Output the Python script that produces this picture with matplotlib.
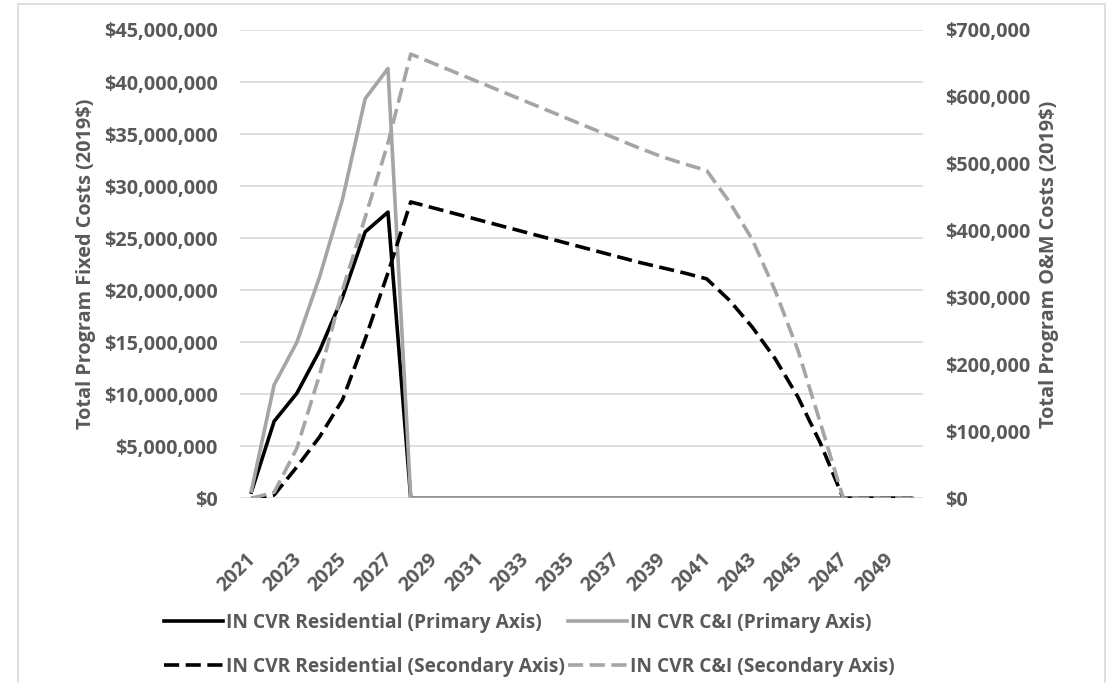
import matplotlib.pyplot as plt
import matplotlib.transforms as mtransforms
from matplotlib.ticker import FuncFormatter, MultipleLocator
from matplotlib.patches import Rectangle

plt.rcParams['font.family'] = ['Open Sans', 'DejaVu Sans']
plt.rcParams['font.weight'] = 'bold'
plt.rcParams['axes.labelweight'] = 'bold'

years = list(range(2021, 2051))

# primary axis: fixed costs ($)
res_fixed = [0.6e6, 7.4e6, 10.1e6, 14.2e6, 19.3e6, 25.6e6, 27.5e6] + [0] * 23
ci_fixed = [0.7e6, 10.9e6, 15.0e6, 21.3e6, 28.7e6, 38.4e6, 41.3e6] + [0] * 23

# secondary axis: O&M costs ($)
res_om = [0, 5e3, 47e3, 92e3, 147e3, 238e3, 337e3, 443e3, 434e3, 425e3,
          416e3, 407e3, 398e3, 389e3, 380e3, 371e3, 362e3, 353e3, 345e3, 337e3,
          328e3, 296e3, 256e3, 209e3, 152e3, 82e3, 0, 0, 0, 0]
ci_om = [0, 9e3, 75e3, 185e3, 311e3, 420e3, 531e3, 664e3, 650e3, 636e3,
         622e3, 608e3, 594e3, 580e3, 566e3, 552e3, 538e3, 524e3, 511e3, 500e3,
         490e3, 443e3, 387e3, 311e3, 222e3, 112e3, 0, 0, 0, 0]

txt = '#595959'
black = '#000000'
gray = '#A5A5A5'
fs = 14.3

fig = plt.figure(figsize=(11.1, 6.83), dpi=100)
ax = fig.add_axes([0.2162, 0.2704, 0.6153, 0.6857])
ax2 = ax.twinx()

l1, = ax.plot(years, res_fixed, color=black, lw=2.6, label='IN CVR Residential (Primary Axis)')
l2, = ax.plot(years, ci_fixed, color=gray, lw=2.6, label='IN CVR C&I (Primary Axis)')
l3, = ax2.plot(years, res_om, color=black, lw=2.6, dashes=(4.2, 1.8),
               label='IN CVR Residential (Secondary Axis)')
l4, = ax2.plot(years, ci_om, color=gray, lw=2.6, dashes=(4.2, 1.8),
               label='IN CVR C&I (Secondary Axis)')

ax.set_xlim(2020.5, 2050.5)
ax.set_ylim(0, 45e6)
ax2.set_ylim(0, 700e3)
ax.yaxis.set_major_locator(MultipleLocator(5e6))
ax2.yaxis.set_major_locator(MultipleLocator(1e5))
money = FuncFormatter(lambda v, p: '${:,.0f}'.format(v))
ax.yaxis.set_major_formatter(money)
ax2.yaxis.set_major_formatter(money)
ax.set_xticks(years[::2])
ax.set_xticklabels([str(y) for y in years[::2]], rotation=45, ha='right',
                   va='top', rotation_mode='anchor', fontweight='bold')

ax.grid(axis='y', color='#D9D9D9', lw=1.2)
ax.set_axisbelow(True)
for a in (ax, ax2):
    for s in a.spines.values():
        s.set_visible(False)
    a.tick_params(length=0, labelsize=fs, labelcolor=txt)
ax.tick_params(axis='y', pad=16)
ax.tick_params(axis='x', pad=24)
ax2.tick_params(axis='y', pad=16)
for lab in ax.get_yticklabels() + ax2.get_yticklabels():
    lab.set_fontweight('bold')

# push the year labels down/left a bit, like the original
shift = mtransforms.ScaledTranslation(-4 / 72, -13 / 72, fig.dpi_scale_trans)
for lab in ax.get_xticklabels():
    lab.set_transform(lab.get_transform() + shift)

ax.set_ylabel('Total Program Fixed Costs (2019$)', fontsize=fs, color=txt, labelpad=6)
ax2.set_ylabel('Total Program O&M Costs (2019$)', fontsize=fs, color=txt, labelpad=6)

fig.legend(handles=[l1, l3, l2, l4], ncol=2, loc='lower center',
           bbox_to_anchor=(0.477, -0.016), frameon=False,
           prop={'size': 13.8, 'weight': 'bold'},
           labelcolor=txt, handlelength=3.1, handletextpad=0.15,
           columnspacing=0.15, labelspacing=1.25)

fig.patches.append(Rectangle((0.0165, -0.1), 0.979, 1.094, transform=fig.transFigure,
                             fill=False, edgecolor='#D9D9D9', lw=1.2))

fig.savefig('out.png', dpi=100)
